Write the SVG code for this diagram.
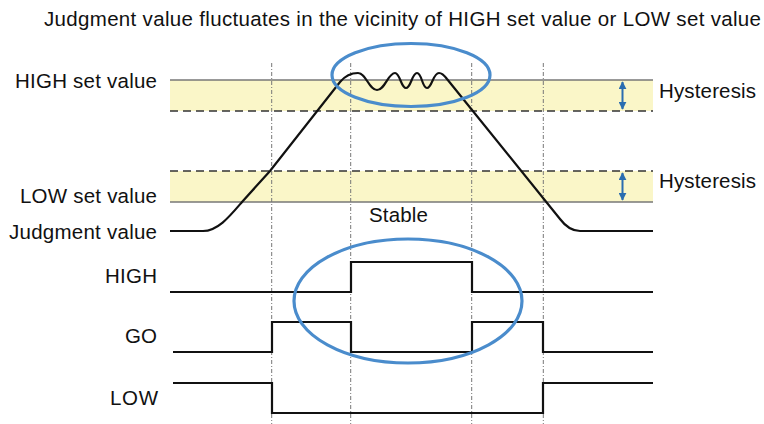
<svg xmlns="http://www.w3.org/2000/svg" width="764" height="424" viewBox="0 0 764 424">
<defs>
<style>
text{font-family:"Liberation Sans",Arial,sans-serif;font-size:20.5px;fill:#111}
.band{fill:#faf6c8}
.solid{stroke:#777;stroke-width:1.6;fill:none}
.dash{stroke:#333;stroke-width:1.3;stroke-dasharray:8 5;fill:none}
.vdot{stroke:#777;stroke-width:1;stroke-dasharray:4 2 1 2;fill:none}
.sig{stroke:#111;stroke-width:2.2;fill:none;stroke-linejoin:miter}
.ell{stroke:#4a8ccc;stroke-width:3.2;fill:none}
.arr{stroke:#2a6db0;stroke-width:2;fill:none;marker-start:url(#ah);marker-end:url(#ah)}
</style>
<marker id="ah" viewBox="0 0 10 10" refX="9" refY="5" markerWidth="4" markerHeight="4" orient="auto-start-reverse">
<path d="M0,0 L10,5 L0,10 Z" fill="#2a6db0"/>
</marker>
</defs>
<rect width="764" height="424" fill="#fff"/>
<g id="bands">
<rect class="band" x="170" y="80" width="483" height="31"/>
<rect class="band" x="170" y="171" width="483" height="31"/>
<line class="solid" x1="170" y1="80" x2="653" y2="80"/>
<line class="dash" x1="170" y1="111" x2="653" y2="111"/>
<line class="dash" x1="170" y1="171" x2="653" y2="171"/>
<line class="solid" x1="170" y1="202" x2="653" y2="202"/>
</g>
<g id="gridlines">
<line class="vdot" x1="271.7" y1="63" x2="271.7" y2="424"/>
<line class="vdot" x1="350.7" y1="63" x2="350.7" y2="424"/>
<line class="vdot" x1="471.7" y1="63" x2="471.7" y2="424"/>
<line class="vdot" x1="543.3" y1="63" x2="543.3" y2="424"/>
</g>
<g id="connectors">
<path id="judgment-curve" class="sig" d="M170,231 L203,231 C218,231 230,216 242,202 L270,171 L340,82 C345,76 351,73 358,73 C366,73 369,90 377,90 C385,90 388,73 395,73 C400,73 401,88 406,88 C411,88 412,73 417,73 C422,73 422,88 427,88 C432,88 433,73 439,73 C442,73 444,75 447,79 L560,219 Q569,231 580,231 L653,231"/>
<path id="high-signal" class="sig" d="M170,292 H351 V262 H472 V292 H653"/>
<path id="go-signal" class="sig" d="M173,352 H272 V322 H351 V352 H472 V322 H543 V352 H653"/>
<path id="low-signal" class="sig" d="M173,383 H272 V413 H543 V383 H653"/>
<line class="arr" x1="622.5" y1="82" x2="622.5" y2="109"/>
<line class="arr" x1="622.5" y1="173" x2="622.5" y2="200"/>
</g>
<g id="highlight-top"><ellipse class="ell" cx="411" cy="75" rx="79" ry="31.5"/></g>
<g id="highlight-bottom"><ellipse class="ell" cx="408" cy="301" rx="114" ry="62"/></g>
<g id="title"><text x="44" y="26" textLength="717">Judgment value fluctuates in the vicinity of HIGH set value or LOW set value</text></g>
<g id="label-high-set"><text x="157" y="88" text-anchor="end" textLength="142">HIGH set value</text></g>
<g id="label-low-set"><text x="157" y="203" text-anchor="end" textLength="137">LOW set value</text></g>
<g id="label-judgment"><text x="157" y="239" text-anchor="end" textLength="148">Judgment value</text></g>
<g id="label-high"><text x="157" y="283" text-anchor="end" textLength="52">HIGH</text></g>
<g id="label-go"><text x="157" y="343" text-anchor="end" textLength="32">GO</text></g>
<g id="label-low"><text x="158" y="405" text-anchor="end" textLength="48">LOW</text></g>
<g id="label-stable"><text x="369" y="222" textLength="59">Stable</text></g>
<g id="label-hyst-high"><text x="659" y="98" textLength="97">Hysteresis</text></g>
<g id="label-hyst-low"><text x="659" y="188" textLength="97">Hysteresis</text></g>
</svg>
